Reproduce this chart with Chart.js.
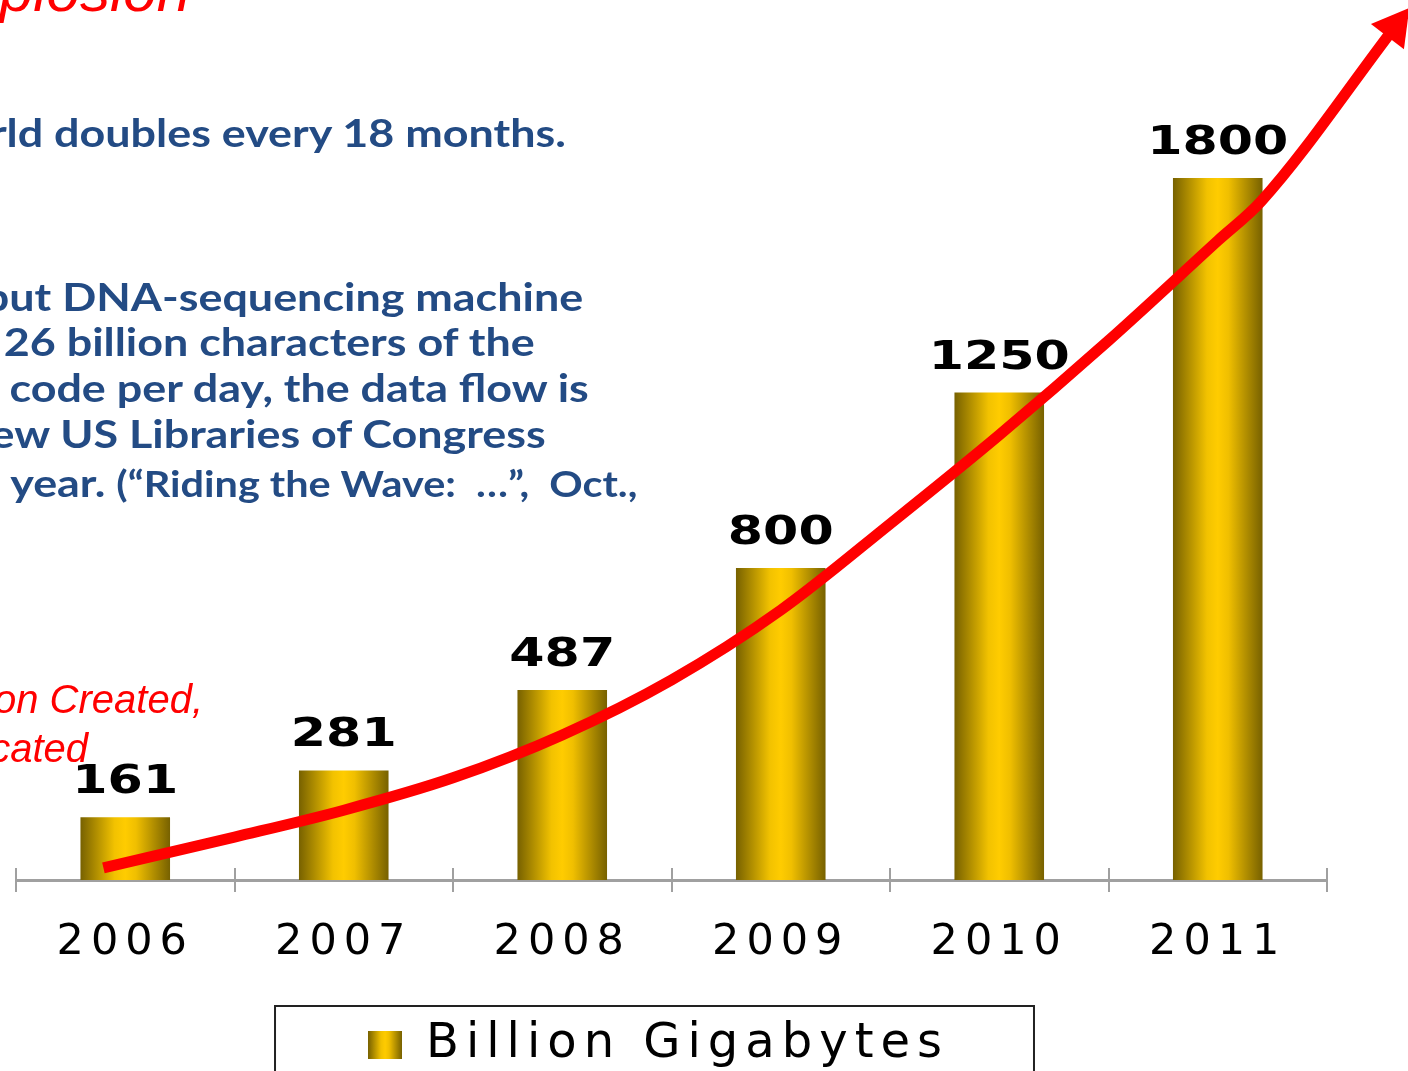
<!DOCTYPE html>
<html>
<head>
<meta charset="utf-8">
<script src="https://cdn.jsdelivr.net/npm/chart.js@4.4.1/dist/chart.umd.min.js"></script>
<style>
  html, body { margin: 0; padding: 0; background: #fff; }
  #wrap { position: relative; width: 1408px; height: 1071px; overflow: hidden; }
  #chart { position: absolute; left: 0; top: 0; }
  .note { position: absolute; white-space: nowrap; line-height: 1; }
  .blue { font-family: Lato, sans-serif; font-weight: 700; color: #234b84; font-size: 39px;
          transform: scaleX(1.15); transform-origin: right center; }
  .blue small { font-size: 36px; }
  .red { font-family: "Liberation Sans", Arial, sans-serif; font-style: italic; color: #ff0000; font-size: 40px; }
</style>
</head>
<body>
<div id="wrap">
  <canvas id="chart" width="1408" height="1071"></canvas>
  <div class="note red" style="right:1218px; top:-39px; font-size:60px">Explosion</div>
  <div class="note blue" style="right:842px; top:113px">rld doubles every 18 months.</div>
  <div class="note blue" style="right:825px; top:277px">put DNA-sequencing machine</div>
  <div class="note blue" style="right:873px; top:322px">26 billion characters of the</div>
  <div class="note blue" style="right:819px; top:368px">code per day, the data flow is</div>
  <div class="note blue" style="right:862px; top:414px">ew US Libraries of Congress</div>
  <div class="note blue" style="right:771px; top:463px">year. <small>(“Riding the Wave:&nbsp; …”,&nbsp; Oct.,</small></div>
  <div class="note red" style="right:1205px; top:679px">on Created,</div>
  <div class="note red" style="right:1320px; top:728px">cated</div>
</div>
<script>
const years = ['2006', '2007', '2008', '2009', '2010', '2011'];
const billionGB = [161, 281, 487, 800, 1250, 1800];
// red arrow: x in category units (0 = 2006), y in billion GB
const trendX = [-0.1, 0.5, 1, 1.5, 2, 2.5, 3, 3.5, 4, 4.5, 5, 5.2, 5.81];
const trendY = [31, 110, 179, 262, 372, 513, 692, 913, 1141, 1383, 1639, 1741, 2187];

const BAR_PCT = 0.41;
const SPACING = '7px';
const LEGEND_SHIFT = -13;

function goldStops(g) {
  g.addColorStop(0, '#776100');
  g.addColorStop(0.38, '#f2c200');
  g.addColorStop(0.5, '#ffcc00');
  g.addColorStop(0.62, '#f0bf00');
  g.addColorStop(1, '#776100');
  return g;
}

function barGradient(c) {
  const chart = c.chart;
  const area = chart.chartArea;
  if (!area || c.dataIndex === undefined) return '#f2c200';
  const cx = chart.scales.x.getPixelForValue(c.dataIndex);
  const half = area.width / years.length * BAR_PCT / 2;
  return goldStops(chart.ctx.createLinearGradient(cx - half, 0, cx + half, 0));
}

// small gold swatch for the legend
const swatch = document.createElement('canvas');
swatch.width = 34;
swatch.height = 28;
const sctx = swatch.getContext('2d');
sctx.fillStyle = goldStops(sctx.createLinearGradient(0, 0, 34, 0));
sctx.fillRect(0, 0, 34, 28);

const slidePlugin = {
  id: 'slide',
  beforeUpdate(chart) { chart.ctx.letterSpacing = SPACING; },
  beforeDraw(chart) { chart.ctx.letterSpacing = SPACING; },
  afterLayout(chart) {
    chart.legend.left += LEGEND_SHIFT;
    chart.legend.right += LEGEND_SHIFT;
  },
  afterDatasetDraw(chart, args) {
    const ctx = chart.ctx;
    const els = args.meta.data;
    ctx.save();
    if (args.index === 0) {
      // value labels over the bars
      ctx.letterSpacing = '0px';
      ctx.font = 'bold 39px "DejaVu Sans"';
      ctx.fillStyle = '#000';
      ctx.textAlign = 'center';
      ctx.textBaseline = 'alphabetic';
      els.forEach((bar, i) => {
        ctx.save();
        ctx.translate(bar.x, bar.y - 24);
        ctx.scale(1.3, 1);
        ctx.fillText(String(billionGB[i]), 0, 0);
        ctx.restore();
      });
    } else {
      // arrow head on the last point of the red line
      const a = els[els.length - 2];
      const b = els[els.length - 1];
      const angle = Math.atan2(b.x - a.x, a.y - b.y) * 180 / Math.PI;
      ctx.fillStyle = '#ff0000';
      Chart.helpers.drawPoint(ctx, { pointStyle: 'triangle', radius: 24, rotation: angle, borderWidth: 0 }, b.x, b.y);
    }
    ctx.restore();
  },
  afterDraw(chart) {
    const ctx = chart.ctx;
    const x2 = chart.scales.x2;
    const area = chart.chartArea;
    ctx.save();
    // upper half of the tick marks
    ctx.strokeStyle = '#a0a0a0';
    ctx.lineWidth = 2;
    for (let i = 0; i <= years.length; i++) {
      const px = Math.round(x2.getPixelForValue(i - 0.5));
      ctx.beginPath();
      ctx.moveTo(px, area.bottom - 12);
      ctx.lineTo(px, area.bottom);
      ctx.stroke();
    }
    // frame round the legend
    const box = chart.legend.legendHitBoxes[0];
    ctx.strokeStyle = '#222';
    ctx.lineWidth = 2;
    ctx.strokeRect(box.left - 93, chart.legend.top, box.width + 178, chart.height);
    ctx.restore();
  }
};

new Chart(document.getElementById('chart'), {
  type: 'bar',
  data: {
    labels: years,
    datasets: [{
      label: 'Billion Gigabytes',
      data: billionGB,
      backgroundColor: barGradient,
      barPercentage: BAR_PCT,
      categoryPercentage: 1,
      grouped: false,
      order: 2
    }, {
      type: 'line',
      label: 'Trend',
      data: trendX.map((x, i) => ({ x: x, y: trendY[i] })),
      xAxisID: 'x2',
      borderColor: '#ff0000',
      backgroundColor: '#ff0000',
      borderWidth: 11,
      borderCapStyle: 'butt',
      cubicInterpolationMode: 'monotone',
      pointRadius: 0,
      clip: false,
      order: 1
    }]
  },
  options: {
    responsive: false,
    animation: false,
    layout: { autoPadding: false, padding: { top: 22, left: 16, right: 81, bottom: -8 } },
    scales: {
      x: {
        grid: { drawOnChartArea: false, offset: true, tickLength: 12, color: '#a0a0a0', lineWidth: 2 },
        border: { color: '#a0a0a0', width: 3 },
        ticks: { color: '#000', padding: 25, maxRotation: 0, font: { family: 'DejaVu Sans', size: 43 } },
        afterFit: s => { s.height = 126; s.paddingLeft = 0; s.paddingRight = 0; }
      },
      x2: { type: 'linear', display: false, offset: false, min: -0.5, max: 5.5 },
      y: { display: false, min: 0, max: 2200 }
    },
    plugins: {
      legend: {
        position: 'bottom',
        labels: {
          color: '#000',
          font: { family: 'DejaVu Sans', size: 48 },
          boxWidth: 34,
          boxHeight: 28,
          usePointStyle: true,
          padding: 15,
          filter: item => item.datasetIndex === 0,
          generateLabels: chart => Chart.defaults.plugins.legend.labels.generateLabels(chart)
            .map(l => Object.assign(l, { pointStyle: swatch }))
        }
      },
      tooltip: { enabled: false }
    }
  },
  plugins: [slidePlugin]
});
</script>
</body>
</html>
